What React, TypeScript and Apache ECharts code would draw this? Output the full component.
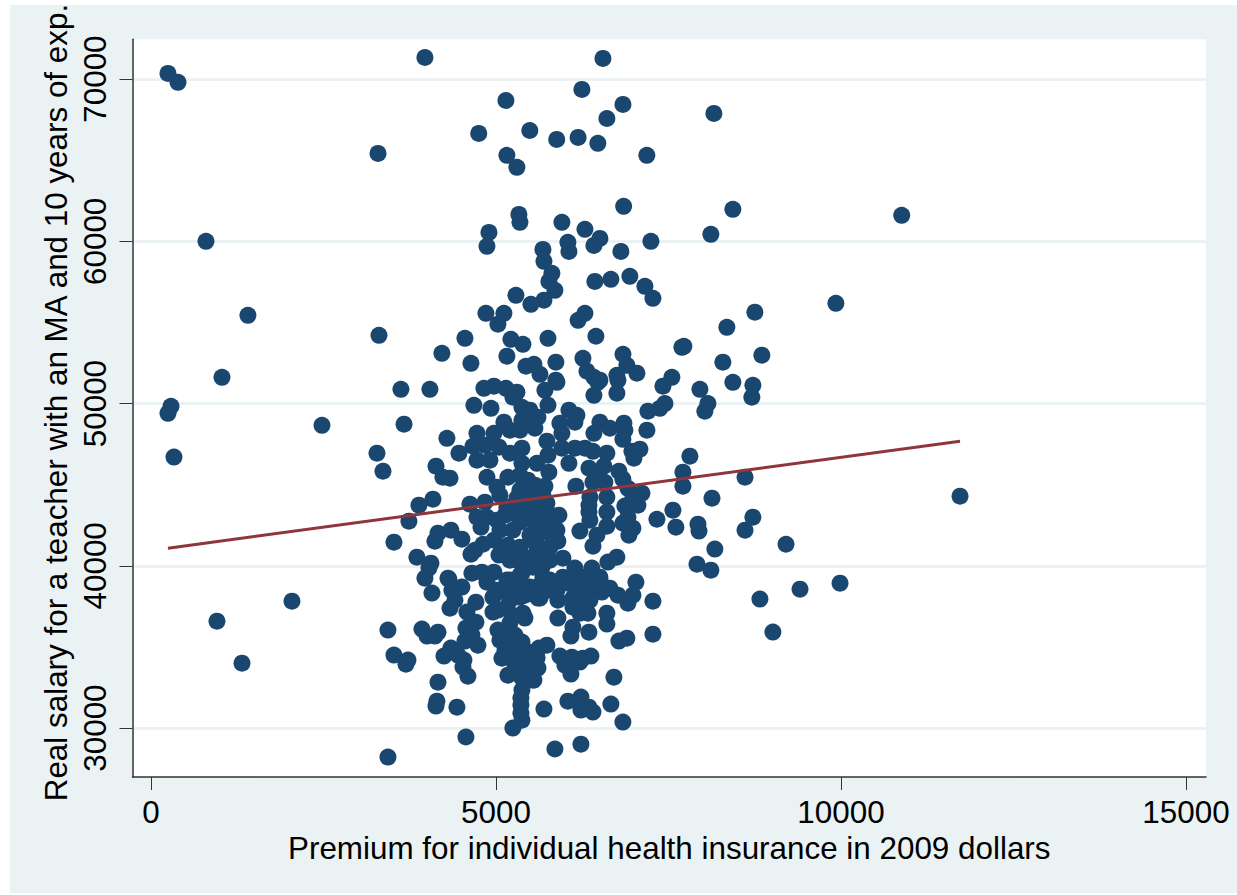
import React, { useEffect, useRef } from "react";
import * as echarts from "echarts";

const xTicks = [0, 5000, 10000, 15000];
const yTicks = [30000, 40000, 50000, 60000, 70000];
const xTitle = "Premium for individual health insurance in 2009 dollars";
const yTitle = "Real salary for a teacher with an MA and 10 years of exp.";

const fitLine = [[246, 41090], [11725, 47680]];

const outerPoints = [
  [246,70350],[391,69800],[3970,71330],[6550,71270],[5144,68680],[6245,69360],[6840,68440],[6607,67570],[8158,67880],
  [4750,66650],[5490,66830],[5880,66280],[6190,66400],[6476,66040],[3290,65420],[5158,65300],[7186,65300],[5303,64560],
  [6850,62160],[8433,61970],[10880,61600],[5332,61660],[5347,61170],[5955,61170],[4898,60550],[6289,60740],[8114,60430],
  [797,60000],[6506,60180],[7245,60000],[6042,59940],[4869,59690],[6419,59750],[5680,59500],[6057,59380],[6810,59380],
  [5695,58770],[5810,58030],[6940,57840],[5767,57530],[6433,57530],[6665,57660],[7158,57230],[5854,56980],[5289,56670],
  [7274,56490],[5695,56370],[5506,56120],[9926,56180],[4854,55560],[5115,55560],[8752,55630],[1405,55440],[5028,54890],
  [6289,55560],[6190,55130],[8346,54700],[3304,54210],[5216,53960],[6448,54150],[5753,54020],[4550,54020],[5390,53650],
  [7694,53470],[7723,53530],[4216,53100],[6840,53040],[8853,52980],[5158,52920],[4637,52480],[6260,52790],[8288,52550],
  [5868,52550],[5550,52420],[5434,52300],[6897,52360],[7042,51870],[6318,52000],[5637,51800],[1029,51620],[7549,51620],
  [6752,51740],[6419,51620],[6506,51440],[5868,51440],[8433,51310],[8723,51130],[7419,51070],[3622,50880],[4042,50880],
  [4825,50940],[4970,51070],[5144,50940],[5303,50700],[5709,50820],[7955,50880],[6752,50640],[6419,50510],[8708,50390],
  [8071,50000],[8027,49530],[246,49400],[290,49830],[4680,49890],[4927,49710],[7448,50000],[7375,49710],[7202,49530],
  [11725,44290],[8609,45460],[8130,44170],[8609,42200],[8723,43000],[7927,42570],[7942,42140],[8172,41030],[9203,41330],
  [9986,38930],[9406,38560],[8825,37950],[9013,35920],[7913,40100],[8114,39730],[956,36590],[1319,34000],[2043,37820],
  [2478,48660],[333,46700],[3275,46940],[3362,45830],[3667,48730],[3434,28210],[4564,29450],
];

const upperLeftPoints = [
  [5245,50390],[5376,49770],[5492,49590],[5115,48850],[5376,48970],[5535,48790],[5202,48360],[4724,48170],[4970,48170],
  [4289,47860],[5347,48360],[4666,47370],[4840,47430],[5043,47310],[4463,46940],[4724,46510],[4912,46510],[5202,46940],
  [5376,47250],[5593,46320],[5376,46320],[4130,46140],[4231,45460],[4333,45400],[4869,45460],[5173,45460],[5347,45580],
  [5014,44850],[5057,44350],[5535,44850],[5347,44660],[4086,44110],[3883,43740],[4622,43800],[4840,43920],[3738,42750],
  [4724,43000],[4782,42380],[4869,43000],[5057,42200],[5245,42200],[5245,43240],[5448,43240],[5158,43610],[5347,43610],
  [5535,43610],[5593,41770],[4159,42010],[4347,42200],[4115,41520],[3521,41460],[4506,41640],[4811,41330],[4637,40720],
  [4695,40960],[5173,41270],[5347,41150],[5521,41580],[5202,40350],[5347,40230],[3854,40530],[4057,40160],[4028,39860],
  [3970,39240],[4304,39240],[4651,39550],[4796,39610],[4970,39610],[5376,39550],[5535,39920],[5202,39120],
];

const lowerLeftPoints = [
  [4072,38320],[4318,39180],[4361,38500],[4506,38690],[4405,37880],[4333,37390],[4709,37760],[4579,37150],[4709,36530],
  [4956,37150],[5028,36040],[4564,36160],[3927,36100],[4000,35670],[4159,35910],[4115,35670],[4550,35360],[4738,35110],
  [4651,35730],[4347,34930],[4246,34440],[4448,34500],[4535,34190],[4521,33760],[4593,33200],[3521,34500],[3724,34190],
  [3695,33940],[4159,32830],[4144,31660],[4130,31360],[4434,31290],[5245,30000],[5376,30490],[5361,30920],[5361,31420],
  [5361,31850],[5376,32340],[5376,33080],[5173,33260],[5086,34310],[5130,34800],[5376,35300],[5245,34500],[5390,34000],
  [5535,32960],[5593,34370],[4956,38070],[5158,38320],[5347,38070],[5158,37450],[5390,37080],[5419,36780],[5202,36470],
  [5158,35850],[5202,35240],[5608,38010],[5492,38690],[4869,38990],[5158,39120],[5347,39420],[3434,36040],
];

const upperRightPoints = [
  [5883,51310],[5753,49900],[6477,51310],[6767,51440],[6057,49590],[6173,49280],[6144,48850],[5926,48790],[6506,48850],
  [6854,48790],[6651,48480],[6419,48170],[6868,48360],[7187,48360],[5955,48170],[5738,47680],[6839,47800],[5564,48480],
  [5608,49160],[5492,49400],[5955,47250],[6144,47250],[6289,47250],[6405,47060],[6607,46940],[7086,47190],[6970,47060],
  [6999,46630],[7810,46760],[5753,46820],[6057,46320],[6347,46020],[6564,46140],[6781,45830],[5767,45770],[7709,45770],
  [7709,44910],[6839,45340],[6477,45580],[6405,45150],[6578,45150],[6912,44780],[6158,44910],[5564,44970],[5709,44910],
  [7115,44480],[6361,44230],[6607,44230],[6984,44170],[7057,43740],[6868,43680],[5738,43860],[6347,43740],[6347,43310],
  [6607,43310],[7564,43430],[7332,42870],[5912,43120],[5796,43120],[5593,43430],[6912,43000],[6361,42810],[5738,42320],
  [5564,42630],[6607,42440],[7607,42380],[6839,42630],[6216,42140],[6984,42320],[5883,42200],[6463,41890],[6926,41890],
  [5897,41520],[6405,41210],[5564,41770],[5782,41150],[5593,40960],[5970,40470],[6622,40230],[6752,40530],[5666,39920],
  [5782,40350],[6144,39860],[6390,39860],[5680,39300],[5970,39300],[6216,39300],[6506,39300],[7028,38990],
];

const lowerRightPoints = [
  [6651,38620],[6506,39120],[6535,38380],[6767,38190],[6984,38190],[6912,37700],[7274,37820],[6607,37080],[6607,36410],
  [5897,36780],[6115,36220],[6086,35670],[6347,35910],[6216,37080],[6332,37080],[6115,37450],[6361,37880],[6115,38010],
  [6260,37880],[5897,37880],[5883,38500],[5637,38010],[5593,38620],[5753,38500],[6042,38930],[6216,38690],[6361,38690],
  [6115,39300],[6289,39300],[7274,35790],[6897,35540],[6781,35360],[5738,35110],[5622,34930],[5593,34310],[5608,33700],
  [5550,32960],[5926,34440],[6100,34370],[5999,33880],[6086,33330],[6260,34310],[6376,34440],[6216,34070],[6709,33140],
  [6042,31660],[6231,31910],[5695,31170],[6231,31110],[6347,31290],[6405,30990],[6665,31480],[6839,30370],[6231,29010],
  [5854,28710],
];

const denseCorePoints = [
  [5463,45280],[5303,44170],[5448,44230],[5680,44350],[5130,43120],[5709,42810],[5347,42690],[5014,42810],[5492,41890],
  [5782,42010],[4970,41580],[5347,40660],[5637,40960],[5492,40470],[5043,40660],[5709,40470],[5014,38500],[5274,38690],
  [5419,38190],[5637,38810],[5782,39120],[5202,37880],[5028,37270],[5231,36960],[5057,35420],[5274,35730],[5274,34800],
  [5419,34800],[5274,33880],[5492,33570],
];

const tickFont = { fontFamily: "Liberation Sans", fontSize: 31.4, color: "#000" };
const titleFont = { fontFamily: "Liberation Sans", fontSize: 31.4, color: "#000" };
const plain = (v: number) => String(v);

export default function App() {
  const ref = useRef<HTMLDivElement>(null);
  useEffect(() => {
    const chart = echarts.init(ref.current!, null, { renderer: "svg" });
    chart.setOption({
      animation: false,
      backgroundColor: "transparent",
      grid: { left: 132.5, top: 38, width: 1073.5, height: 739, show: true, backgroundColor: "#fff", borderWidth: 0 },
      xAxis: {
        type: "value",
        min: -268,
        max: 15290,
        name: xTitle,
        nameLocation: "middle",
        nameGap: 50,
        nameTextStyle: titleFont,
        axisLine: { show: true, onZero: false, lineStyle: { color: "#333", width: 1.5 } },
        axisTick: { show: true, length: 13, customValues: xTicks, lineStyle: { color: "#333", width: 1 } },
        axisLabel: { show: true, margin: 20, customValues: xTicks, formatter: plain, hideOverlap: false, showMinLabel: true, showMaxLabel: true, ...tickFont },
        splitLine: { show: false },
      },
      yAxis: {
        type: "value",
        min: 26985,
        max: 72462,
        name: yTitle,
        nameLocation: "middle",
        nameGap: 56,
        nameRotate: 90,
        nameTextStyle: { ...titleFont, padding: [0, 0, 0, 11] },
        axisLine: { show: true, onZero: false, lineStyle: { color: "#333", width: 1.5 } },
        axisTick: { show: true, length: 13, customValues: yTicks, lineStyle: { color: "#333", width: 1 } },
        axisLabel: { show: true, margin: 22, rotate: 90, customValues: yTicks, formatter: plain, ...tickFont },
        splitLine: { show: true, lineStyle: { color: "#eaf2f3", width: 3 } },
      },
      series: [
        {
          type: "scatter",
          symbol: "circle",
          symbolSize: 17,
          itemStyle: { color: "#1a476f", opacity: 1 },
          data: [...outerPoints, ...upperLeftPoints, ...lowerLeftPoints, ...upperRightPoints, ...lowerRightPoints, ...denseCorePoints],
        },
        {
          type: "line",
          symbol: "none",
          data: fitLine,
          lineStyle: { color: "#90353b", width: 3 },
        },
      ],
    });
    return () => chart.dispose();
  }, []);
  return (
    <div style={{ position: "fixed", left: 0, top: 0, width: 1237, height: 895, background: "#fff", overflow: "hidden" }}>
      <div style={{ position: "absolute", left: 10, top: 5, right: 0, bottom: 2, background: "#eaf2f3" }} />
      <div ref={ref} style={{ position: "absolute", left: 0, top: 0, width: 1237, height: 895 }} />
    </div>
  );
}
